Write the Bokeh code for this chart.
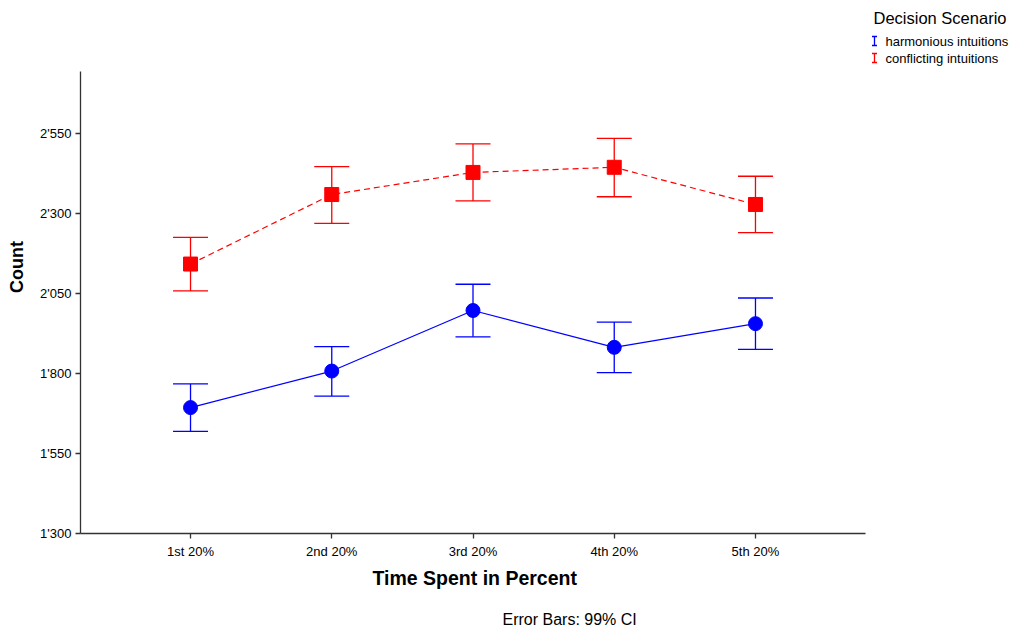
from bokeh.plotting import figure
from bokeh.models import (ColumnDataSource, Range1d, FixedTicker, Whisker, TeeHead, Title, Label)
from bokeh.embed import file_html
from bokeh.resources import INLINE

# ---- data ----
categories = ["1st 20%", "2nd 20%", "3rd 20%", "4th 20%", "5th 20%"]
harm_mean = [1693, 1807, 1996, 1881, 1955]
harm_low = [1619, 1729, 1914, 1802, 1875]
harm_high = [1767, 1883, 2078, 1960, 2035]
conf_mean = [2141, 2358, 2427, 2443, 2327]
conf_low = [2057, 2268, 2338, 2351, 2239]
conf_high = [2224, 2445, 2516, 2533, 2415]
y_ticks = [1300, 1550, 1800, 2050, 2300, 2550]
series_names = ["harmonious intuitions", "conflicting intuitions"]
legend_title = "Decision Scenario"
x_title = "Time Spent in Percent"
y_title = "Count"
footnote = "Error Bars: 99% CI"

xpos = list(range(1, len(categories) + 1))
BLUE = "#0000FF"
RED = "#FF0000"
FONT = "Liberation Sans"

# ---- layout geometry (pixels) ----
W, H = 1014, 633
FL, FR_AX, FB, AX_TOP = 80, 865, 533, 71     # axis box on the canvas
X_LO, X_HI = 0.221, 5.779                    # x extent of the drawn axis
Y_LO, Y_HI = 1300, 2742                      # y extent of the drawn axis
ppx = (X_HI - X_LO) / (FR_AX - FL)
ppy = (Y_HI - Y_LO) / (FB - AX_TOP)
x_end = X_HI + (W - FR_AX) * ppx             # frame extends to the right edge
y_end = Y_HI + AX_TOP * ppy                  # and up to the top edge


def px2x(X):
    return X_LO + (X - FL) * ppx


def px2y(Y):
    return Y_LO + (FB - Y) * ppy


p = figure(width=W, height=H, output_backend="svg", toolbar_location=None,
           x_range=Range1d(X_LO, x_end), y_range=Range1d(Y_LO, y_end),
           min_border_left=FL, min_border_right=0, min_border_top=0, min_border_bottom=H - FB)
p.outline_line_color = None
p.xgrid.grid_line_color = None
p.ygrid.grid_line_color = None
p.background_fill_color = "white"
p.border_fill_color = "white"

h_src = ColumnDataSource(dict(x=xpos, y=harm_mean, lo=harm_low, hi=harm_high))
c_src = ColumnDataSource(dict(x=xpos, y=conf_mean, lo=conf_low, hi=conf_high))

p.line("x", "y", source=h_src, line_color=BLUE, line_width=1.2)
p.line("x", "y", source=c_src, line_color=RED, line_width=1.2, line_dash="6 4")

for src, col in ((h_src, BLUE), (c_src, RED)):
    w = Whisker(base="x", lower="lo", upper="hi", source=src, line_color=col, line_width=1.3,
                upper_head=TeeHead(size=35, line_color=col, line_width=1.3),
                lower_head=TeeHead(size=35, line_color=col, line_width=1.3))
    p.add_layout(w)

p.scatter("x", "y", source=h_src, marker="circle", size=14, fill_color=BLUE, line_color=BLUE)
p.scatter("x", "y", source=c_src, marker="square", size=14, fill_color=RED, line_color=RED)

# axes
p.xaxis.ticker = FixedTicker(ticks=xpos)
p.xaxis.major_label_overrides = {x: c for x, c in zip(xpos, categories)}
p.xaxis.bounds = (X_LO, X_HI)
p.yaxis.ticker = FixedTicker(ticks=y_ticks)
p.yaxis.major_label_overrides = {t: f"{t:,}".replace(",", "'") for t in y_ticks}
p.yaxis.bounds = (Y_LO, Y_HI)
for ax in (p.xaxis[0], p.yaxis[0]):
    ax.axis_line_color = "#333333"
    ax.axis_line_width = 1.3
    ax.major_tick_line_color = "#333333"
    ax.major_tick_line_width = 1.3
    ax.major_tick_in = 0
    ax.major_tick_out = 5
    ax.minor_tick_line_color = None
    ax.major_label_text_font = FONT
    ax.major_label_text_font_size = "13px"
    ax.major_label_text_color = "black"
    ax.axis_label_text_font = FONT
    ax.axis_label_text_font_style = "bold"
    ax.axis_label_text_color = "black"
p.yaxis.axis_label = y_title
p.yaxis.axis_label_text_font_size = "18px"
p.xaxis.major_label_standoff = 5
p.yaxis.major_label_standoff = 4
p.yaxis.axis_label_standoff = 10

# x title centred under the drawn axis (not the extended frame)
p.add_layout(Title(text=x_title, align="left", offset=292, text_font=FONT,
                   text_font_size="19.5px", text_font_style="bold",
                   text_color="black", standoff=6), "below")
# footnote: leading blank line pushes it lower inside the bottom border
p.add_layout(Title(text="\n" + footnote, align="left", offset=422, text_font=FONT,
                   text_font_size="16px", text_font_style="normal",
                   text_color="black", standoff=0), "below")

# ---- legend (inside the extended frame, top right) ----
def lab(X, Y, text, size):
    p.add_layout(Label(x=X - FL, y=FB - Y, x_units="screen", y_units="screen", text=text,
                       text_font=FONT, text_font_size=size, text_color="black",
                       text_align="left", text_baseline="middle"))


lab(873, 17, legend_title, "16.5px")
item_y = [40.5, 57.5]
item_cols = [BLUE, RED]
for name, yy in zip(series_names, item_y):
    lab(885, yy, name, "13px")

icon_x = 874
p.segment(x0=[px2x(icon_x)] * 2, x1=[px2x(icon_x)] * 2,
          y0=[px2y(yy - 4.5) for yy in item_y], y1=[px2y(yy + 4.5) for yy in item_y],
          line_color=item_cols, line_width=1.3)
for dy in (-4.5, 4.5):
    p.segment(x0=[px2x(icon_x - 2.5)] * 2, x1=[px2x(icon_x + 2.5)] * 2,
              y0=[px2y(yy + dy) for yy in item_y], y1=[px2y(yy + dy) for yy in item_y],
              line_color=item_cols, line_width=1.3)

open("out.html", "w").write(file_html(p, INLINE))
